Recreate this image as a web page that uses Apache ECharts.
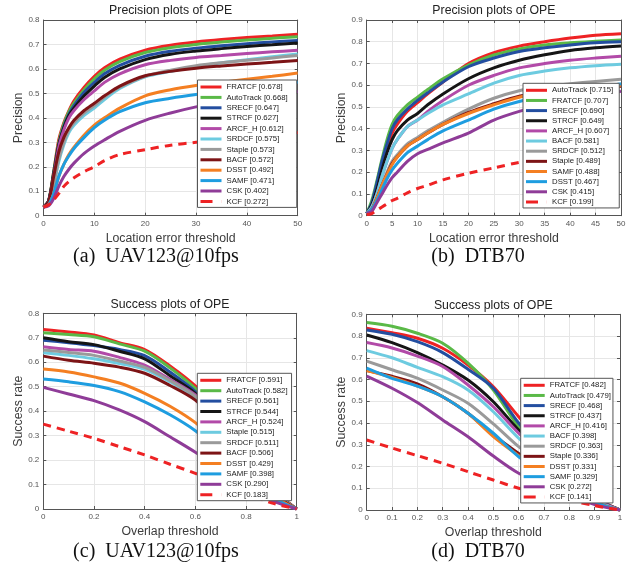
<!DOCTYPE html>
<html><head><meta charset="utf-8">
<script src="https://cdn.jsdelivr.net/npm/echarts@6/dist/echarts.min.js"></script>
<style>html,body{margin:0;padding:0;background:#fff}#c{width:640px;height:564px}</style>
</head><body><div id="c"></div>
<script>
// ---------- DATA ----------
const precThresholds = [0,1,2,3,4,5,6,8,10,12,15,20,25,30,35,40,45,50];
const succThresholds = [0,0.1,0.2,0.3,0.4,0.5,0.6,0.7,0.8,0.9,1];

// (a) UAV123@10fps precision
const uavPrecNames  = ['FRATCF','AutoTrack','SRECF','STRCF','ARCF_H','SRDCF','Staple','BACF','DSST','SAMF','CSK','KCF'];
const uavPrecScores = ['0.678','0.668','0.647','0.627','0.612','0.575','0.573','0.572','0.492','0.471','0.402','0.272'];
const uavPrecValues = [
  [0.035,0.06,0.18,0.31,0.38,0.43,0.47,0.525,0.57,0.605,0.64,0.677,0.697,0.71,0.72,0.728,0.735,0.742],
  [0.035,0.06,0.18,0.30,0.375,0.425,0.46,0.515,0.56,0.595,0.63,0.667,0.687,0.70,0.71,0.718,0.725,0.732],
  [0.035,0.06,0.17,0.29,0.365,0.415,0.45,0.505,0.545,0.58,0.615,0.652,0.672,0.685,0.695,0.703,0.71,0.716],
  [0.035,0.06,0.17,0.29,0.36,0.41,0.44,0.49,0.53,0.565,0.60,0.638,0.66,0.673,0.683,0.692,0.699,0.706],
  [0.035,0.055,0.16,0.28,0.35,0.40,0.43,0.475,0.51,0.545,0.58,0.617,0.635,0.647,0.655,0.663,0.67,0.676],
  [0.035,0.05,0.12,0.22,0.29,0.34,0.37,0.41,0.44,0.475,0.52,0.568,0.59,0.61,0.625,0.638,0.65,0.661],
  [0.035,0.05,0.13,0.23,0.30,0.35,0.38,0.42,0.45,0.485,0.525,0.57,0.595,0.613,0.625,0.635,0.645,0.655],
  [0.035,0.055,0.16,0.26,0.32,0.36,0.39,0.43,0.46,0.49,0.53,0.572,0.59,0.603,0.612,0.62,0.627,0.634],
  [0.035,0.045,0.09,0.16,0.21,0.25,0.28,0.33,0.37,0.40,0.44,0.49,0.515,0.532,0.545,0.558,0.57,0.583],
  [0.035,0.045,0.09,0.16,0.21,0.245,0.275,0.32,0.36,0.39,0.425,0.462,0.48,0.495,0.508,0.52,0.532,0.546],
  [0.035,0.04,0.07,0.12,0.16,0.19,0.215,0.255,0.285,0.31,0.345,0.39,0.42,0.445,0.465,0.48,0.495,0.508],
  [0.035,0.045,0.065,0.09,0.12,0.14,0.155,0.18,0.2,0.225,0.25,0.27,0.288,0.30,0.31,0.32,0.33,0.34]
];

// (b) DTB70 precision
const dtbPrecNames  = ['AutoTrack','FRATCF','SRECF','STRCF','ARCF_H','BACF','SRDCF','Staple','SAMF','DSST','CSK','KCF'];
const dtbPrecScores = ['0.715','0.707','0.690','0.649','0.607','0.581','0.512','0.489','0.488','0.467','0.415','0.199'];
const dtbPrecValues = [
  [0.01,0.05,0.13,0.23,0.31,0.38,0.42,0.48,0.52,0.56,0.615,0.70,0.75,0.78,0.80,0.817,0.83,0.837],
  [0.01,0.07,0.16,0.26,0.35,0.42,0.46,0.51,0.545,0.58,0.63,0.693,0.739,0.767,0.785,0.795,0.802,0.808],
  [0.01,0.06,0.15,0.25,0.33,0.40,0.44,0.49,0.53,0.565,0.615,0.685,0.725,0.755,0.772,0.785,0.795,0.80],
  [0.01,0.05,0.12,0.21,0.29,0.35,0.39,0.44,0.47,0.51,0.56,0.63,0.68,0.715,0.74,0.76,0.772,0.78],
  [0.01,0.04,0.10,0.18,0.25,0.31,0.35,0.41,0.44,0.48,0.53,0.60,0.645,0.68,0.70,0.715,0.725,0.733],
  [0.01,0.04,0.10,0.18,0.25,0.31,0.35,0.41,0.44,0.47,0.51,0.56,0.61,0.645,0.665,0.68,0.69,0.697],
  [0.01,0.03,0.08,0.14,0.20,0.25,0.28,0.33,0.36,0.39,0.43,0.49,0.54,0.575,0.595,0.607,0.617,0.627],
  [0.01,0.03,0.08,0.14,0.19,0.24,0.27,0.32,0.35,0.38,0.42,0.475,0.515,0.55,0.567,0.58,0.588,0.595],
  [0.01,0.03,0.08,0.14,0.19,0.235,0.27,0.32,0.35,0.38,0.42,0.47,0.51,0.545,0.565,0.577,0.59,0.60],
  [0.01,0.03,0.07,0.12,0.17,0.21,0.24,0.29,0.32,0.35,0.39,0.44,0.49,0.525,0.548,0.567,0.587,0.607],
  [0.01,0.02,0.06,0.10,0.14,0.175,0.20,0.25,0.285,0.305,0.335,0.38,0.44,0.48,0.51,0.53,0.55,0.572],
  [0.005,0.01,0.025,0.04,0.055,0.07,0.08,0.105,0.125,0.14,0.165,0.195,0.22,0.245,0.262,0.277,0.29,0.297]
];

// (c) UAV123@10fps success
const uavSuccNames  = ['FRATCF','AutoTrack','SRECF','STRCF','ARCF_H','Staple','SRDCF','BACF','DSST','SAMF','CSK','KCF'];
const uavSuccScores = ['0.591','0.582','0.561','0.544','0.524','0.515','0.511','0.506','0.429','0.398','0.290','0.183'];
const uavSuccValues = [
  [0.734,0.724,0.711,0.68,0.652,0.585,0.503,0.39,0.25,0.09,0],
  [0.72,0.713,0.704,0.675,0.645,0.577,0.493,0.38,0.24,0.085,0],
  [0.69,0.68,0.668,0.652,0.627,0.56,0.48,0.365,0.23,0.08,0],
  [0.70,0.684,0.672,0.645,0.614,0.545,0.473,0.36,0.225,0.08,0],
  [0.663,0.652,0.645,0.62,0.588,0.53,0.466,0.355,0.22,0.075,0],
  [0.639,0.628,0.614,0.595,0.571,0.52,0.457,0.35,0.215,0.075,0],
  [0.65,0.64,0.628,0.605,0.579,0.525,0.46,0.35,0.215,0.075,0],
  [0.625,0.608,0.596,0.58,0.555,0.505,0.445,0.34,0.21,0.07,0],
  [0.572,0.56,0.54,0.515,0.473,0.42,0.353,0.26,0.16,0.06,0],
  [0.531,0.52,0.505,0.48,0.438,0.385,0.32,0.235,0.145,0.05,0],
  [0.497,0.47,0.443,0.405,0.357,0.295,0.232,0.16,0.09,0.035,0],
  [0.347,0.318,0.289,0.255,0.221,0.183,0.146,0.105,0.065,0.025,0]
];

// (d) DTB70 success
const dtbSuccNames  = ['FRATCF','AutoTrack','SRECF','STRCF','ARCF_H','BACF','SRDCF','Staple','DSST','SAMF','CSK','KCF'];
const dtbSuccScores = ['0.482','0.479','0.468','0.437','0.416','0.398','0.363','0.336','0.331','0.329','0.272','0.141'];
const dtbSuccValues = [
  [0.836,0.815,0.79,0.744,0.667,0.567,0.429,0.30,0.17,0.06,0],
  [0.862,0.845,0.813,0.767,0.675,0.552,0.383,0.27,0.155,0.055,0],
  [0.828,0.808,0.774,0.724,0.647,0.56,0.40,0.28,0.16,0.055,0],
  [0.805,0.77,0.724,0.667,0.598,0.498,0.368,0.26,0.15,0.05,0],
  [0.77,0.745,0.708,0.66,0.575,0.475,0.353,0.25,0.145,0.05,0],
  [0.733,0.70,0.656,0.613,0.552,0.452,0.33,0.23,0.135,0.045,0],
  [0.685,0.645,0.606,0.552,0.491,0.396,0.291,0.2,0.12,0.04,0],
  [0.641,0.615,0.58,0.521,0.445,0.345,0.26,0.18,0.105,0.035,0],
  [0.641,0.61,0.57,0.521,0.445,0.338,0.25,0.17,0.1,0.035,0],
  [0.652,0.605,0.57,0.521,0.445,0.353,0.245,0.17,0.1,0.035,0],
  [0.616,0.56,0.494,0.414,0.337,0.248,0.169,0.12,0.07,0.025,0],
  [0.322,0.285,0.25,0.215,0.176,0.138,0.1,0.075,0.045,0.02,0]
];

const rankColors = ['#ee2224','#5ab947','#234ea0','#151515','#b24aa8','#6dcbe0','#9a9a9a','#7d1416','#f47f22','#1e9de0','#8f3c98','#ee2224'];

// ---------- LAYOUT ----------
const SANS = '"Liberation Sans", Arial, sans-serif';
const SERIF = '"Liberation Serif", "Times New Roman", serif';
const panels = [
  {names:uavPrecNames, scores:uavPrecScores, values:uavPrecValues, x:precThresholds,
   grid:{left:43.5, top:20, width:254.2, height:195.7}, xMax:50, xInt:10, yMax:0.8,
   xName:'Location error threshold', yName:'Precision', title:'Precision plots of OPE',
   caption:'(a)  UAV123@10fps', cap:[156,257], legend:{left:197.5, top:80, padR:9, gap:0.4}},
  {names:dtbPrecNames, scores:dtbPrecScores, values:dtbPrecValues, x:precThresholds,
   grid:{left:366.7, top:20, width:254.3, height:195.7}, xMax:50, xInt:5, yMax:0.9,
   xName:'Location error threshold', yName:'Precision', title:'Precision plots of OPE',
   caption:'(b)  DTB70', cap:[478,257], legend:{left:523, top:83.3, padR:6, gap:0.15}},
  {names:uavSuccNames, scores:uavSuccScores, values:uavSuccValues, x:succThresholds,
   grid:{left:43.3, top:313.3, width:253.4, height:195.7}, xMax:1, xInt:0.2, yMax:0.8,
   xName:'Overlap threshold', yName:'Success rate', title:'Success plots of OPE',
   caption:'(c)  UAV123@10fps', cap:[156,552], legend:{left:197.3, top:373.3, padR:4, gap:0.4}},
  {names:dtbSuccNames, scores:dtbSuccScores, values:dtbSuccValues, x:succThresholds,
   grid:{left:366.7, top:314.3, width:253.3, height:195.7}, xMax:1, xInt:0.1, yMax:0.9,
   xName:'Overlap threshold', yName:'Success rate', title:'Success plots of OPE',
   caption:'(d)  DTB70', cap:[478,552], legend:{left:520.7, top:378.3, padR:2, gap:0.15}}
];

const SOLID_ICON = 'path://M0,0H21V3H0Z';
const DASH_ICON = 'path://M0,0H12V3H0Z M20.9,0H21V3H20.9Z';
const AX = '#555';
const grids = [], xAxes = [], yAxes = [], series = [], legends = [], graphics = [];
panels.forEach((p, i) => {
  grids.push(Object.assign({outerBoundsMode:'none', containLabel:false}, p.grid));
  const common = {type:'value', gridIndex:i, min:0};
  xAxes.push(Object.assign({}, common, {
    max:p.xMax, interval:p.xInt, position:'bottom',
    name:p.xName, nameLocation:'middle', nameGap:16.5,
    nameTextStyle:{fontSize:12.3, color:'#3c3c3c', fontFamily:SANS},
    axisLine:{show:true, onZero:false, lineStyle:{color:AX, width:1}},
    axisTick:{show:true, inside:true, length:3, lineStyle:{color:AX}},
    axisLabel:{fontSize:8, color:'#555', margin:4, fontFamily:SANS},
    splitLine:{show:true, lineStyle:{color:'#e6e6e6', width:1}}
  }));
  xAxes.push(Object.assign({}, common, {
    max:p.xMax, interval:p.xInt, position:'top',
    axisLine:{show:true, onZero:false, lineStyle:{color:AX, width:1}},
    axisTick:{show:true, inside:true, length:3, lineStyle:{color:AX}},
    axisLabel:{show:false}, splitLine:{show:false}
  }));
  yAxes.push(Object.assign({}, common, {
    max:p.yMax, interval:0.1, position:'left',
    name:p.yName, nameLocation:'middle', nameGap:16,
    nameTextStyle:{fontSize:12.3, color:'#3c3c3c', fontFamily:SANS},
    axisLine:{show:true, onZero:false, lineStyle:{color:AX, width:1}},
    axisTick:{show:true, inside:true, length:3, lineStyle:{color:AX}},
    axisLabel:{fontSize:8, color:'#555', margin:4, fontFamily:SANS},
    splitLine:{show:true, lineStyle:{color:'#e6e6e6', width:1}}
  }));
  yAxes.push(Object.assign({}, common, {
    max:p.yMax, interval:0.1, position:'right',
    axisLine:{show:true, onZero:false, lineStyle:{color:AX, width:1}},
    axisTick:{show:true, inside:true, length:3, lineStyle:{color:AX}},
    axisLabel:{show:false}, splitLine:{show:false}
  }));
  const legendData = [];
  p.names.forEach((n, k) => {
    const label = n + ' [' + p.scores[k] + ']';
    const color = rankColors[k];
    legendData.push({name:label, icon:(k === 11 ? DASH_ICON : SOLID_ICON), itemStyle:{color:color, opacity:1}});
    series.push({
      type:'line', name:label, xAxisIndex:2*i, yAxisIndex:2*i,
      data:p.x.map((t, j) => [t, p.values[k][j]]),
      symbol:'none', symbolSize:0, showSymbol:false, smooth:0.3,
      lineStyle:{color:color, width:3, type:(k === 11 ? [8,6] : 'solid')},
      itemStyle:{color:color}, emphasis:{disabled:true}, silent:true
    });
  });
  legends.push({
    data:legendData, orient:'vertical', left:p.legend.left, top:p.legend.top,
    itemWidth:21, itemHeight:3, itemGap:p.legend.gap,
    padding:[2, p.legend.padR, 1, 3],
    borderColor:'#555', borderWidth:1, borderRadius:0, backgroundColor:'#fff',
    selectedMode:false, z:10,
    textStyle:{fontSize:7.8, color:'#222', lineHeight:10, fontFamily:SANS}
  });
  const cx = p.grid.left + p.grid.width / 2;
  graphics.push({type:'text', x:cx, y:p.grid.top - 9, z:20,
    style:{text:p.title, font:'12.3px ' + SANS, fill:'#222', align:'center', verticalAlign:'middle', textAlign:'center', textVerticalAlign:'middle'}});
  graphics.push({type:'text', x:p.cap[0], y:p.cap[1], z:20,
    style:{text:p.caption, font:'20px ' + SERIF, fill:'#111', align:'center', verticalAlign:'middle', textAlign:'center', textVerticalAlign:'middle'}});
});

const chart = echarts.init(document.getElementById('c'), null, {renderer:'canvas'});
chart.setOption({
  animation:false,
  backgroundColor:'#fff',
  grid:grids, xAxis:xAxes, yAxis:yAxes, series:series, legend:legends,
  graphic:{elements:graphics}
});
</script>
</body></html>
